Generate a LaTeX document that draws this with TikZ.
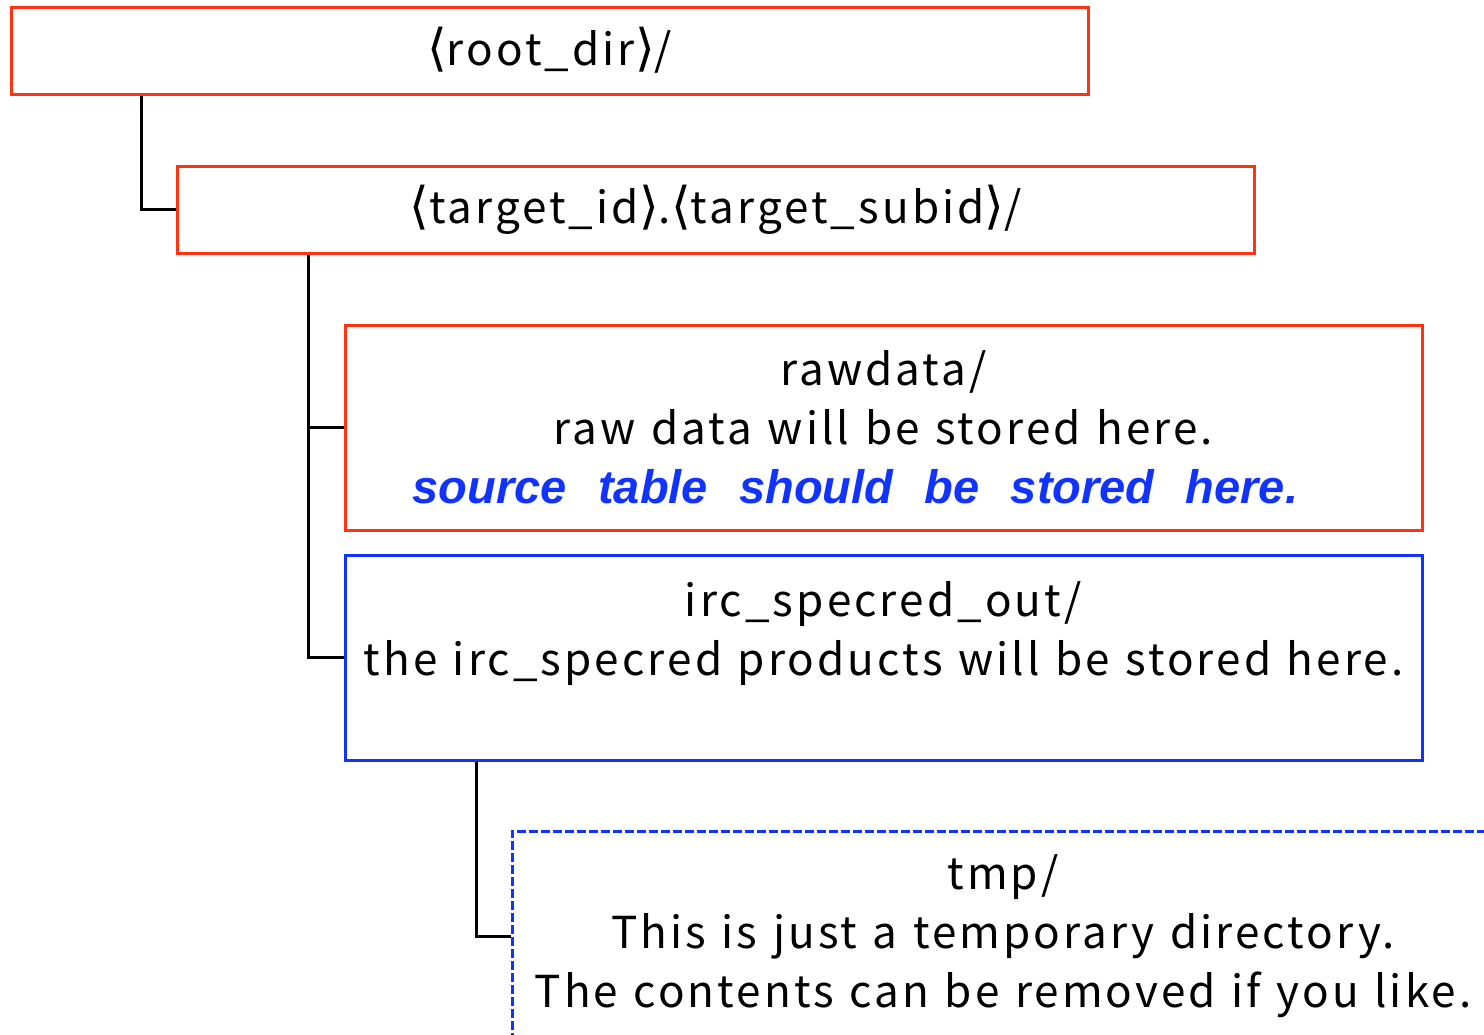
\documentclass[tikz,border=0pt]{standalone}
\usepackage{fontspec}
\setmainfont{Noto Sans CJK JP}[LetterSpace=7, WordSpace=1.2]
\newfontfamily\notefont{Liberation Sans}[WordSpace=1.2]
\newfontfamily\brfont{DejaVu Sans}[Scale=1.15]
\newcommand{\dirL}{{\brfont ⟨}}
\newcommand{\dirR}{{\brfont ⟩}}
\usetikzlibrary{positioning}
\definecolor{dirred}{RGB}{255,51,17}
\definecolor{dirblue}{RGB}{17,51,255}
\tikzstyle{dirbox} = [rectangle, draw=dirred, line width=1.5pt, align=center, inner sep=0pt, minimum width=538.5pt, font=\fontsize{22}{29.5}\selectfont]
\tikzstyle{conn} = [line width=1.5pt, black]

\begin{document}
\begin{tikzpicture}[x=0.5pt, y=-0.5pt]
    \useasboundingbox (0,0) rectangle (1484,1034);
    \clip (0,0) rectangle (1484,1034);
    \node (root) [dirbox, minimum height=43.5pt] at (549.5,50.5) {\dirL root\_dir\dirR/};
    \node (target) [dirbox, minimum height=43.5pt] at (715.5,209.5) {\dirL target\_id\dirR.\dirL target\_subid\dirR/};
    \node (rawdata) [dirbox, minimum height=102.5pt] at (883.5,427.5) {rawdata/\\raw data will be stored here.\\{\notefont\fontsize{23.5}{29.5}\selectfont\bfseries\itshape\color{dirblue}source\ \ table\ \ should\ \ be\ \ stored\ \ here.}\hspace*{28pt}};
    \node (ircout) [dirbox, draw=dirblue, minimum height=102.5pt] at (883.5,657.5) {irc\_specred\_out/\\the irc\_specred products will be stored here.\\\mbox{}};
    \node (tmpdir) [dirbox, draw=dirblue, dash pattern=on 4.5pt off 1.5pt, minimum width=491pt, minimum height=105pt] at (1003,936) {tmp/\\This is just a temporary directory.\\The contents can be removed if you like.};

    % tree lines
    \draw [conn] ([xshift=66pt]root.south west) |- (target.west);
    \draw [conn] ([xshift=66.5pt]target.south west) |- (ircout.west);
    \draw [conn] ([xshift=66.5pt]target.south west |- rawdata.west) -- (rawdata.west);
    \draw [conn] ([xshift=66.5pt]ircout.south west) |- (tmpdir.west);
\end{tikzpicture}
\end{document}
